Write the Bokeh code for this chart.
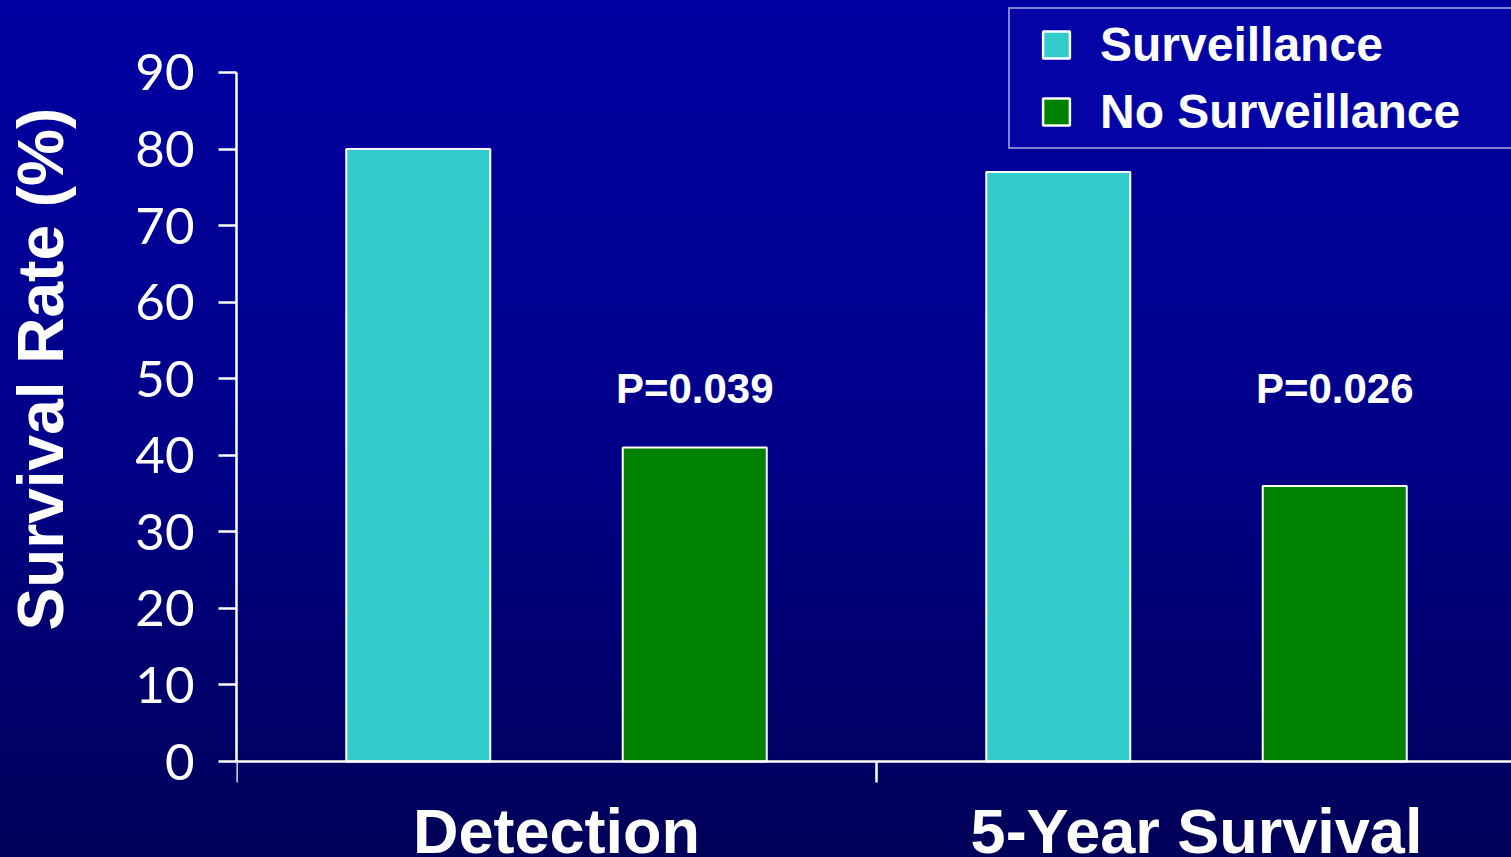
from bokeh.core.properties import value
from bokeh.embed import file_html
from bokeh.models import (ColumnDataSource, FixedTicker, Legend, LegendItem,
                          Range1d, Title)
from bokeh.plotting import figure
from bokeh.resources import INLINE

# ---- data -------------------------------------------------------------
categories = ["Detection", "5-Year Survival"]
surveillance = [80, 77]
no_surveillance = [41, 36]
p_values = ["P=0.039", "P=0.026"]
series_names = ["Surveillance", "No Surveillance"]
y_ticks = [0, 10, 20, 30, 40, 50, 60, 70, 80, 90]

# ---- styling ----------------------------------------------------------
CYAN = "#33cccc"
GREEN = "#008000"
WHITE = "#ffffff"
BOLD_FONT = "Liberation Sans"

W, H = 1511, 857
LEFT = 236           # width of the area left of the plot frame
PX_PER_UNIT = 7.656  # vertical pixels per percentage point
ZERO_FROM_TOP = 761  # baseline position measured from the top of the canvas

frame_w = W - LEFT
x_end = frame_w / 640.0
y_start = -(H - ZERO_FROM_TOP) / PX_PER_UNIT
y_end = ZERO_FROM_TOP / PX_PER_UNIT

offset = 0.216
bar_w = 0.225
centers = [i + 0.5 for i in range(len(categories))]
x_surv = [c - offset for c in centers]
x_nosurv = [c + offset for c in centers]

p = figure(width=W, height=H, output_backend="svg", toolbar_location=None,
           x_range=Range1d(0, x_end), y_range=Range1d(y_start, y_end),
           min_border_left=LEFT, min_border_right=0,
           min_border_top=0, min_border_bottom=0)
p.background_fill_color = None
p.border_fill_color = None
p.outline_line_color = None
p.styles = {"background": "linear-gradient(to bottom, #0000a2 0%, #00008a 50%, #000058 100%)"}
p.xgrid.visible = False
p.ygrid.visible = False

# ---- bars -------------------------------------------------------------
src = ColumnDataSource(dict(x_surv=x_surv, x_nosurv=x_nosurv,
                            surv=surveillance, nosurv=no_surveillance,
                            pv=p_values))
p.vbar(x="x_surv", top="surv", width=bar_w, source=src,
       fill_color=CYAN, line_color=WHITE, line_width=2)
p.vbar(x="x_nosurv", top="nosurv", width=bar_w, source=src,
       fill_color=GREEN, line_color=WHITE, line_width=2)

# p-value annotations above the comparison bars
label_y = 48.7
p.text(x="x_nosurv", y=label_y, text="pv", source=src,
       text_font=value(BOLD_FONT), text_font_style="bold",
       text_font_size="42px", text_color=WHITE,
       text_align="center", text_baseline="middle")

# ---- axes -------------------------------------------------------------
yax = p.yaxis[0]
yax.ticker = FixedTicker(ticks=y_ticks)
yax.bounds = (0, 90)
yax.axis_line_color = WHITE
yax.axis_line_width = 2.5
yax.major_tick_line_color = WHITE
yax.major_tick_line_width = 2.5
yax.major_tick_in = 0
yax.major_tick_out = 18
yax.minor_tick_line_color = None
yax.major_label_text_color = WHITE
yax.major_label_text_font = "Lato"
yax.major_label_text_font_size = "51px"
yax.major_label_standoff = 24
# blank axis label used only as a spacer between tick labels and the title
yax.axis_label = " "
yax.axis_label_text_font_size = "10px"
yax.axis_label_standoff = 36

xax = p.xaxis[0]
xax.fixed_location = 0
xax.ticker = FixedTicker(ticks=centers, minor_ticks=list(range(len(categories) + 1)))
xax.major_label_overrides = dict(zip(centers, categories))
xax.axis_line_color = WHITE
xax.axis_line_width = 2.5
xax.major_tick_line_color = None
xax.major_tick_in = 0
xax.major_tick_out = 0
xax.minor_tick_line_color = WHITE
xax.minor_tick_line_width = 2.5
xax.minor_tick_in = 0
xax.minor_tick_out = 21
xax.major_label_text_color = WHITE
xax.major_label_text_font = BOLD_FONT
xax.major_label_text_font_style = "bold"
xax.major_label_text_font_size = "63px"
xax.major_label_standoff = 13

# vertical axis title at the outer edge of the left margin
p.add_layout(Title(text="Survival Rate (%)", align="left", offset=227,
                   vertical_align="top", standoff=8,
                   text_font=BOLD_FONT, text_font_style="bold",
                   text_font_size="64px", text_color=WHITE), "left")

# ---- legend -----------------------------------------------------------
# hidden markers that provide the square legend keys
key_surv = p.scatter(x="x_surv", y="surv", source=src, marker="square", size=27,
                     fill_color=CYAN, line_color=WHITE, line_width=2.5,
                     visible=False)
key_nosurv = p.scatter(x="x_nosurv", y="nosurv", source=src, marker="square", size=27,
                       fill_color=GREEN, line_color=WHITE, line_width=2.5,
                       visible=False)
legend = Legend(items=[LegendItem(label=series_names[0], renderers=[key_surv]),
                       LegendItem(label=series_names[1], renderers=[key_nosurv])],
                location=(772, 708), orientation="vertical",
                padding=2, spacing=0, margin=0,
                glyph_width=88, glyph_height=67,
                label_standoff=0, label_width=409,
                label_text_font=BOLD_FONT, label_text_font_style="bold",
                label_text_font_size="48px", label_text_color=WHITE,
                border_line_color=WHITE, border_line_width=2.5,
                background_fill_color="#0404a6", background_fill_alpha=1)
p.add_layout(legend)

open("out.html", "w").write(file_html(p, INLINE))
